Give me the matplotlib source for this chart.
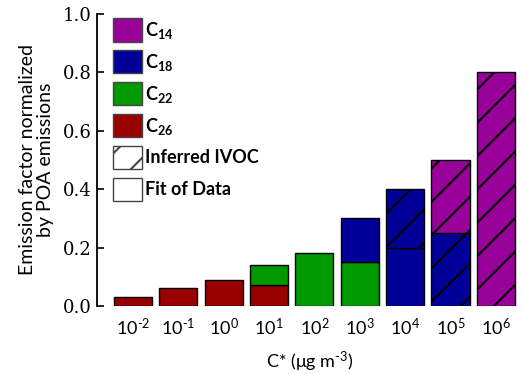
"""Emission factor by volatility bin, stacked by carbon number."""

import matplotlib
matplotlib.use('Agg')
import matplotlib.pyplot as plt
from matplotlib.patches import Patch
import numpy as np

plt.rcParams.update({
    'font.family': 'Lato',
    'mathtext.fontset': 'custom',
    'mathtext.rm': 'Lato',
    'mathtext.it': 'Lato:italic',
    'mathtext.bf': 'Lato:bold',
    'mathtext.default': 'regular',
    'hatch.linewidth': 1.5,
})

bins = ['10$^{‐2}$', '10$^{‐1}$', '10$^{0}$', '10$^{1}$', '10$^{2}$',
        '10$^{3}$', '10$^{4}$', '10$^{5}$', '10$^{6}$']
c26_fit = [0.03, 0.06, 0.09, 0.07, 0, 0, 0, 0, 0]
c22_fit = [0, 0, 0, 0.07, 0.18, 0.15, 0, 0, 0]
c18_fit = [0, 0, 0, 0, 0, 0.15, 0.20, 0, 0]
c18_ivoc = [0, 0, 0, 0, 0, 0, 0.20, 0.25, 0]
c14_ivoc = [0, 0, 0, 0, 0, 0, 0, 0.25, 0.80]

colors = {'C14': '#990099', 'C18': '#000099', 'C22': '#009900', 'C26': '#990000'}

fig = plt.figure(figsize=(5.27, 3.74), dpi=100)
ax = fig.add_axes([0.184, 0.182, 0.806, 0.781])

x = np.arange(len(bins))
width = 0.84
bottom = np.zeros(len(bins))
layers = [(c26_fit, colors['C26'], None), (c22_fit, colors['C22'], None),
          (c18_fit, colors['C18'], None), (c18_ivoc, colors['C18'], '/'),
          (c14_ivoc, colors['C14'], '/')]
for vals, col, hatch in layers:
    vals = np.array(vals)
    m = vals > 0
    ax.bar(x[m], vals[m], width, bottom=bottom[m], color=col,
           edgecolor='black', linewidth=1.0, hatch=hatch)
    bottom += vals

ax.set_xlim(-0.79, 8.57)
ax.set_ylim(0, 1.0)
ax.set_xticks(x)
ax.set_xticklabels(bins, fontsize=13)
ax.set_yticks([0, 0.2, 0.4, 0.6, 0.8, 1.0])
ax.set_yticklabels(['0.0', '0.2', '0.4', '0.6', '0.8', '1.0'],
                   family='DejaVu Serif', fontsize=13)
ax.tick_params(axis='x', length=0, pad=8)
ax.tick_params(axis='y', direction='in', length=5, width=1.2, pad=4)
for s in ['top', 'right', 'bottom']:
    ax.spines[s].set_visible(False)
ax.spines['left'].set_linewidth(1.3)

ax.set_xlabel('C* (μg m$^{‐3}$)', fontsize=13, labelpad=8)
ax.set_ylabel('Emission factor normalized\nby POA emissions', fontsize=14,
              labelpad=6, linespacing=1.1)

handles = [
    Patch(facecolor=colors['C14'], edgecolor='#444444', label='$\\mathbf{C_{14}}$'),
    Patch(facecolor=colors['C18'], edgecolor='#444444', label='$\\mathbf{C_{18}}$'),
    Patch(facecolor=colors['C22'], edgecolor='#444444', label='$\\mathbf{C_{22}}$'),
    Patch(facecolor=colors['C26'], edgecolor='#444444', label='$\\mathbf{C_{26}}$'),
    Patch(facecolor='white', edgecolor='#444444', hatch='/',
          label='Inferred IVOC'),
    Patch(facecolor='white', edgecolor='#444444', label='Fit of Data'),
]
leg = ax.legend(handles=handles, loc='upper left', bbox_to_anchor=(0.0, 1.04),
                frameon=False, handlelength=1.6, handleheight=1.6,
                handletextpad=0.15, labelspacing=0.48,
                prop={'weight': 'bold', 'size': 13})

fig.savefig('out.png', dpi=100)
plt.close()
